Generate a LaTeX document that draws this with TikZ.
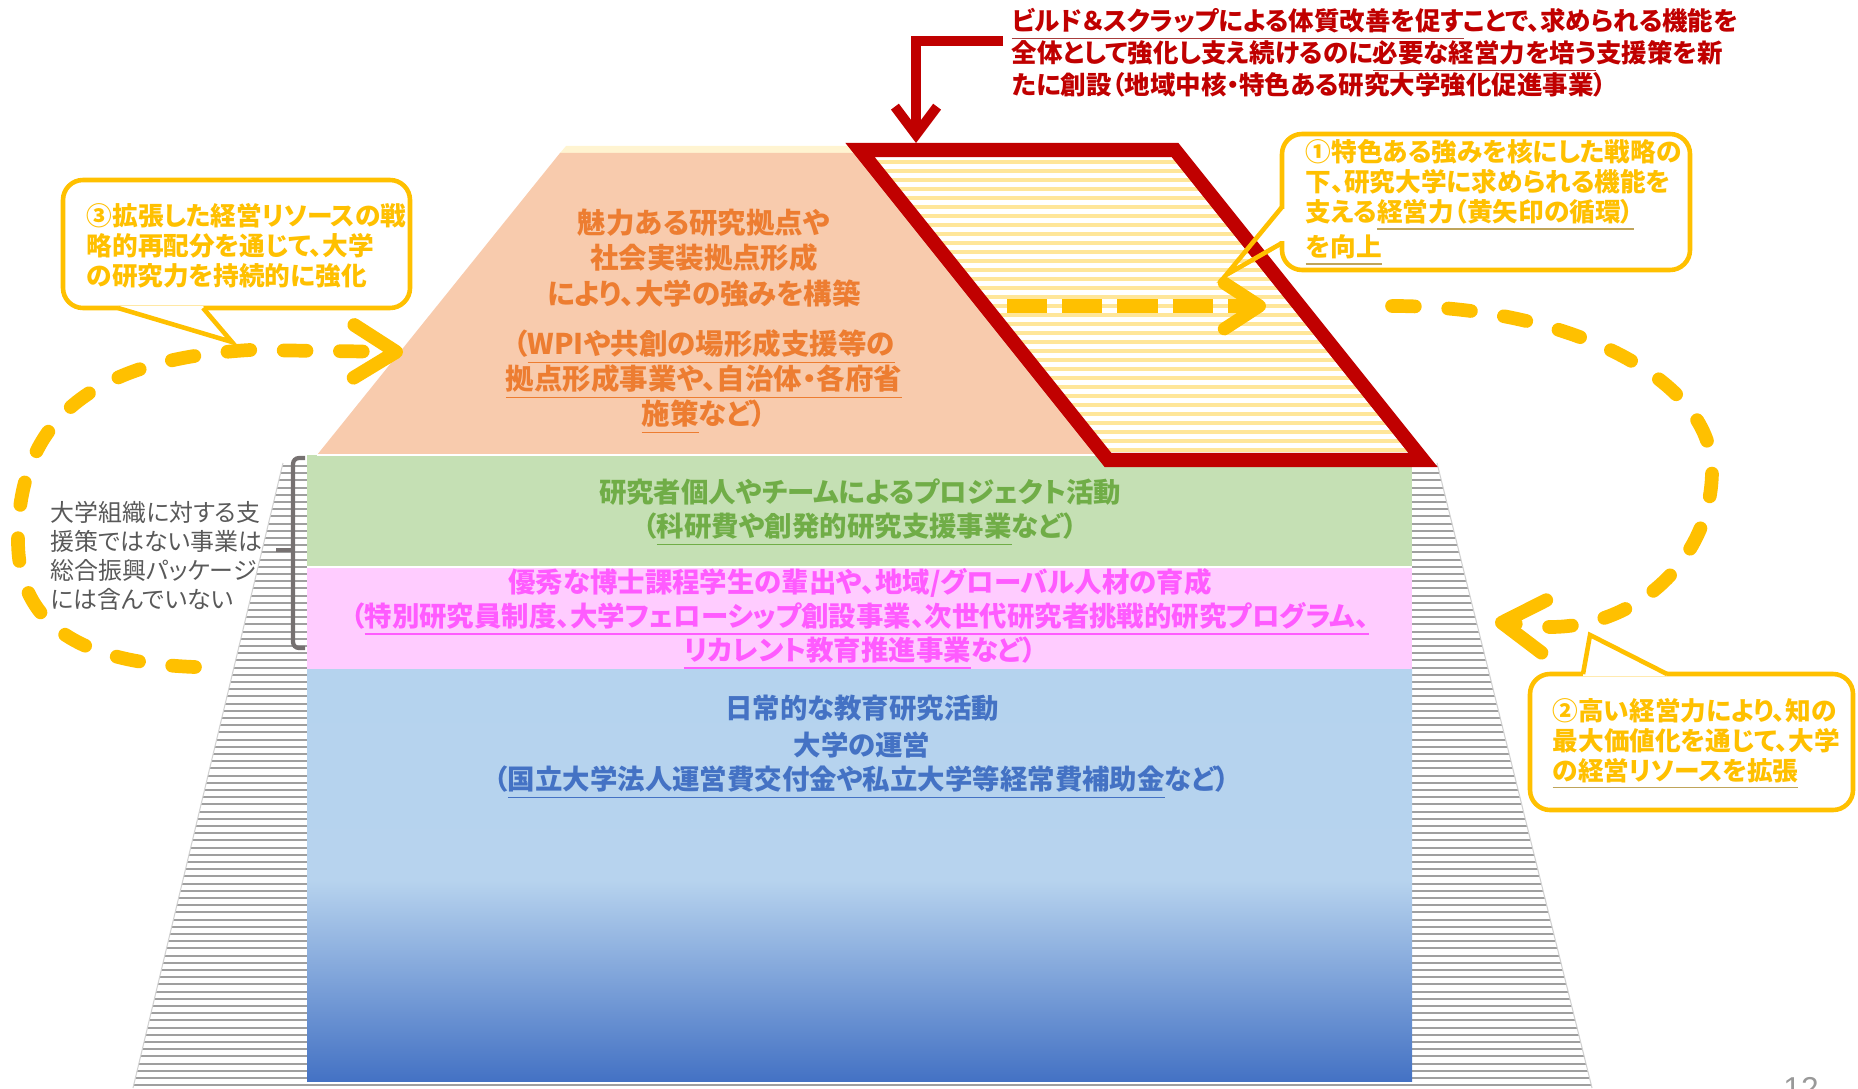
\documentclass[tikz,border=0pt]{standalone}
\usepackage{fontspec}
\usepackage{xcolor}
\usetikzlibrary{arrows.meta}
\newfontfamily\jp{Noto Sans CJK JP}[RawFeature=+palt]
\newfontfamily\pn{Liberation Sans}
\definecolor{gold}{HTML}{FFC000}
\definecolor{darkred}{HTML}{C00000}
\definecolor{peach}{HTML}{F8CBAD}
\definecolor{bandgreen}{HTML}{C5E0B4}
\definecolor{bandpink}{HTML}{FFCCFF}
\definecolor{blueA}{HTML}{B5D3EE}
\definecolor{blueB}{HTML}{B4C6E7}
\definecolor{blueC}{HTML}{B7D3EE}
\definecolor{blueD}{HTML}{4472C4}
\definecolor{txtorange}{HTML}{ED7D31}
\definecolor{txtgreen}{HTML}{70AD47}
\definecolor{txtpink}{HTML}{FF5BFF}
\definecolor{txtblue}{HTML}{4472C4}
\definecolor{txtgray}{HTML}{595959}
\definecolor{brkgray}{HTML}{767171}
\definecolor{hatchyel}{HTML}{FFE699}
\definecolor{ulgold}{HTML}{BFA45A}
\definecolor{ulred}{HTML}{A83C3C}
\newcommand{\uln}[2]{{\colorlet{ulsave}{.}\color{#1}\underline{\color{ulsave}#2}}}
\tikzset{
	every node/.style={inner sep=0pt},
	grayhatch/.style={draw=gray!75, line width=0.6pt},
	yelhatch/.style={draw=hatchyel, line width=0.9pt},
	redbox/.style={draw=darkred, line width=4pt, line join=miter},
	redarrow/.style={draw=darkred, line width=2.8pt, -{Straight Barb[length=8pt,width=12pt]}},
	callbox/.style={draw=gold, fill=white, line width=1.3pt, rounded corners=2mm},
	callline/.style={draw=gold, line width=1.3pt, line join=miter},
	loopdash/.style={draw=gold, line width=3.9pt, line cap=round, dash pattern=on 6.5pt off 9.5pt, -{Straight Barb[length=12pt,width=15pt,round]}},
	topdash/.style={draw=gold, line width=3.7pt, dash pattern=on 11.4pt off 4.3pt, -{Straight Barb[length=10pt,width=13pt,round]}},
	bracket/.style={draw=brkgray, line width=1.2pt, rounded corners=0.6mm},
	bandtxt/.style={align=center, font=\jp\bfseries\fontsize{7.8}{9.7}\selectfont},
	peachtxt/.style={align=center, text=txtorange, font=\jp\bfseries\fontsize{8.1}{10}\selectfont},
	redtxt/.style={align=left, text=darkred, font=\jp\bfseries\fontsize{7.25}{9.1}\selectfont},
	calltxt/.style={align=left, text=gold, font=\jp\bfseries\fontsize{7.3}{8.5}\selectfont},
	sidetxt/.style={align=left, text=txtgray, font=\jp\fontsize{6.8}{8.3}\selectfont},
	pagenum/.style={text=gray!80, font=\pn\fontsize{9}{9}\selectfont}
}
\begin{document}
\begin{tikzpicture}[x=0.01cm, y=-0.01cm]
	\useasboundingbox (0,0) rectangle (1858,1088);
	
	% gray hatched base
	\begin{scope}
		\clip (283,463) -- (1437,463) -- (1592,1088) -- (133,1088) -- cycle;
		\foreach \k in {0,...,87}
		\draw[grayhatch] (100,{466+7.2*\k}) -- (1650,{466+7.2*\k});
	\end{scope}
	\draw[gray!35, line width=0.3pt] (283,463) -- (133,1088) (1437,463) -- (1592,1088);
	
	% bands
	\fill[bandgreen] (307,455) rectangle (1412,567);
	\fill[bandpink] (307,567) rectangle (1412,669);
	\shade[top color=blueA, middle color=blueB, bottom color=blueC] (307,669) rectangle (1412,881);
	\shade[top color=blueC, bottom color=blueD] (307,880) rectangle (1412,1081);
	\draw[white, line width=0.6pt] (307,567) -- (1412,567);
	
	% top trapezoid
	\fill[hatchyel!45] (566,146) -- (850,146) -- (856,153) -- (560,153) -- cycle;
	\fill[peach] (560,153) -- (880,153) -- (1130,455) -- (317,455) -- cycle;
	\draw[white, line width=0.6pt] (317,455) -- (1412,455);
	
	% red frame
	\begin{scope}
		\clip (860,150) -- (1175,150) -- (1423,460) -- (1108,460) -- cycle;
		\fill[white] (800,140) rectangle (1450,470);
		\foreach \k in {0,...,35}
		\draw[yelhatch] (800,{153+9*\k}) -- (1450,{153+9*\k});
	\end{scope}
	\draw[redbox] (860,150) -- (1175,150) -- (1423,460) -- (1108,460) -- cycle;
	
	% texts in the pyramid
	\node[peachtxt] (peachA) at (704,258) {魅力ある研究拠点や\\社会実装拠点形成\\により、大学の強みを構築};
	\node[peachtxt] (peachB) at (704,382) {（\uln{txtorange}{WPIや共創の場形成支援等の}\\\uln{txtorange}{拠点形成事業や、自治体・各府省}\\\uln{txtorange}{施策}など）};
	\node[bandtxt, text=txtgreen] (green) at (860,513) {研究者個人やチームによるプロジェクト活動\\（\uln{txtgreen}{科研費や創発的研究支援事業}など）};
	\node[bandtxt, text=txtpink] (pink) at (860,619) {優秀な博士課程学生の輩出や、地域/グローバル人材の育成\\（\uln{txtpink}{特別研究員制度、大学フェローシップ創設事業、次世代研究者挑戦的研究プログラム、}\\\uln{txtpink}{リカレント教育推進事業}など）};
	\node[bandtxt, text=txtblue] (blue) at (862,747) {日常的な教育研究活動\\[1pt]大学の運営\\（\uln{txtblue}{国立大学法人運営費交付金や私立大学等経常費補助金}など）};
	
	% red note and arrow
	\node[redtxt, anchor=west] (rtxt) at (1011,53) {\uln{ulred}{ビルド＆スクラップによる体質改善を促す}ことで、求められる機能を\\全体として強化し支え続けるのに\uln{ulred}{必要な経営力を培う}支援策を新\\たに創設（地域中核・特色ある研究大学強化促進事業）};
	\coordinate (rfrom) at (1003,41);
	\coordinate (rto) at (916,143);
	\draw[redarrow] (rfrom) -| (rto);
	
	% callout 1
	\draw[callbox] (1282,134) rectangle (1690,270);
	\draw[white, line width=1.6pt] (1282,209) -- (1282,241);
	\coordinate (p1) at (1226,275);
	\draw[callline] (1282,207) -- (p1) -- (1282,243);
	\node[calltxt, anchor=west] (c1) at (1305,203) {①特色ある強みを核にした戦略の\\下、研究大学に求められる機能を\\支える\uln{ulgold}{経営力（黄矢印の循環）}\\\uln{ulgold}{を向上}};
	
	% callout 2
	\draw[callbox] (1530,674) rectangle (1853,810);
	\coordinate (p2) at (1590,635);
	\fill[white] (1583,676) -- (p2) -- (1667,676) -- cycle;
	\draw[callline] (1583,674) -- (p2) -- (1667,674);
	\node[calltxt, anchor=west] (c2) at (1552,744) {②高い経営力により、知の\\最大価値化を通じて、大学\\\uln{ulgold}{の経営リソースを拡張}};
	
	% callout 3
	\draw[callbox] (63,180) rectangle (410,308);
	\coordinate (p3) at (232,342);
	\fill[white] (118,306) -- (p3) -- (203,306) -- cycle;
	\draw[callline] (118,308) -- (p3) -- (203,308);
	\node[calltxt, anchor=west] (c3) at (86,246) {③拡張した経営リソースの戦\\略的再配分を通じて、大学\\の研究力を持続的に強化};
	
	% yellow loops
	\coordinate (t0) at (1007,306);
	\coordinate (t1) at (1266,306);
	\draw[topdash] (t0) -- (t1);
	\coordinate (r0) at (1392,306);
	\coordinate (r1) at (1712,470);
	\coordinate (r2) at (1550,627);
	\coordinate (r3) at (1495,622);
	\draw[loopdash] (r0) .. controls (1569,306) and (1712,379) .. (r1)
	.. controls (1712,557) and (1639,627) .. (r2) -- (r3);
	\coordinate (l0) at (195,667);
	\coordinate (l1) at (18,540);
	\coordinate (l2) at (250,350);
	\coordinate (l3) at (403,352);
	\draw[loopdash] (l0) .. controls (60,662) and (18,610) .. (l1)
	.. controls (18,430) and (80,360) .. (l2) -- (l3);
	
	% side note
	\draw[bracket] (305,458) -- (293,458) -- (293,648) -- (305,648);
	\draw[bracket] (293,550) -- (276,550);
	\node[sidetxt, anchor=west] (side) at (50,556) {大学組織に対する支\\援策ではない事業は\\総合振興パッケージ\\には含んでいない};
	
	\node[pagenum, anchor=north] (pg) at (1801,1077) {12};
	
\end{tikzpicture}
\end{document}
